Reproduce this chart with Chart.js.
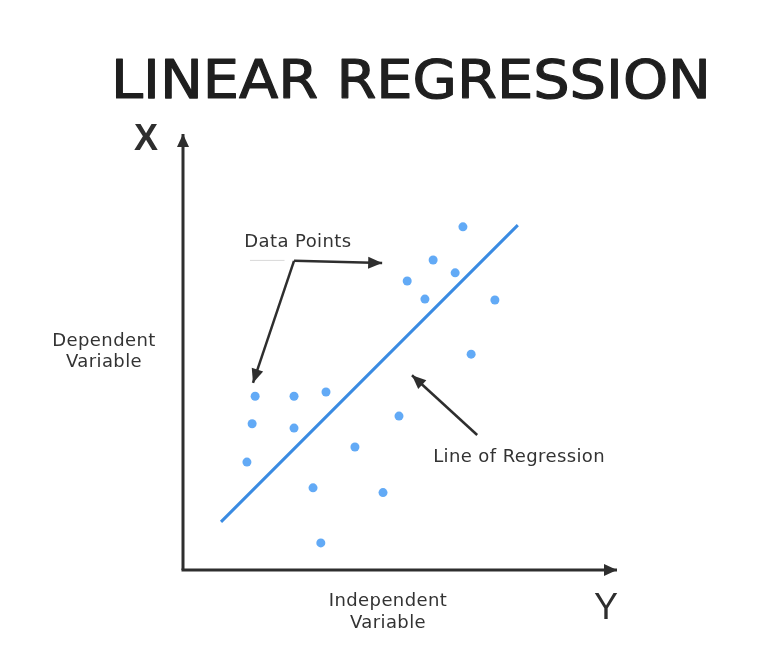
<!DOCTYPE html>
<html>
<head>
<meta charset="utf-8">
<title>Linear Regression</title>
<script src="https://cdn.jsdelivr.net/npm/chart.js@4"></script>
<style>
  html, body { margin: 0; padding: 0; background: #fff; }
  canvas { display: block; }
</style>
</head>
<body>
<canvas id="chart" width="763" height="670"></canvas>
<script>
// scatter points (axis units 0..10)
const pointX = [1.67, 1.60, 1.48, 2.57, 2.57, 3.31, 3.01, 3.19, 3.98, 4.63, 5.00, 5.19, 5.60, 5.79, 6.30, 6.48, 7.22, 6.67];
const pointY = [4.04, 3.40, 2.51, 4.04, 3.30, 4.14, 1.91, 0.63, 2.86, 1.80, 3.58, 6.72, 6.30, 7.21, 6.91, 7.98, 6.28, 5.02];

// regression line end points
const lineX = [0.88, 7.75];
const lineY = [1.12, 8.02];

const axisMin = 0;
const axisMax = 10;

const pointColor = '#62aaf6';
const lineColor = '#3a8be2';
const inkColor = '#2e2e2e';

const scatterData = pointX.map((x, i) => ({ x: x, y: pointY[i] }));
const lineData = lineX.map((x, i) => ({ x: x, y: lineY[i] }));

function arrowHead(ctx, x1, y1, x2, y2, len, half) {
    const a = Math.atan2(y2 - y1, x2 - x1);
    ctx.beginPath();
    ctx.moveTo(x2, y2);
    ctx.lineTo(x2 - len * Math.cos(a) + half * Math.sin(a), y2 - len * Math.sin(a) - half * Math.cos(a));
    ctx.lineTo(x2 - len * Math.cos(a) - half * Math.sin(a), y2 - len * Math.sin(a) + half * Math.cos(a));
    ctx.closePath();
    ctx.fill();
}

function arrow(ctx, pts, width, len, half) {
    ctx.lineWidth = width;
    ctx.beginPath();
    ctx.moveTo(pts[0][0], pts[0][1]);
    for (let i = 1; i < pts.length; i++) {
        ctx.lineTo(pts[i][0], pts[i][1]);
    }
    ctx.stroke();
    const n = pts.length;
    arrowHead(ctx, pts[n - 2][0], pts[n - 2][1], pts[n - 1][0], pts[n - 1][1], len, half);
}

// axes, arrows and labels drawn around the chart area
const decorations = {
    id: 'decorations',
    afterDraw(chart) {
        const ctx = chart.ctx;
        const area = chart.chartArea;
        const xs = chart.scales.x;
        const ys = chart.scales.y;
        const px = v => xs.getPixelForValue(v);
        const py = v => ys.getPixelForValue(v);

        ctx.save();
        ctx.strokeStyle = inkColor;
        ctx.fillStyle = inkColor;
        ctx.lineCap = 'butt';

        // axes
        arrow(ctx, [[area.left, area.bottom], [area.left, area.top - 6]], 3, 13, 6);
        arrow(ctx, [[area.left - 1.5, area.bottom], [area.right + 2, area.bottom]], 3, 13, 6);

        // title
        ctx.textBaseline = 'alphabetic';
        ctx.textAlign = 'left';
        ctx.font = '53px "DejaVu Sans"';
        const title = 'LINEAR REGRESSION';
        const w = ctx.measureText(title).width;
        ctx.save();
        ctx.translate(111, 98);
        ctx.scale(600 / w, 1);
        ctx.fillStyle = '#1f1f1f';
        ctx.strokeStyle = '#1f1f1f';
        ctx.lineWidth = 1.2;
        ctx.lineJoin = 'round';
        ctx.fillText(title, 0, 0);
        ctx.strokeText(title, 0, 0);
        ctx.restore();

        // axis letters
        ctx.textAlign = 'center';
        ctx.font = 'bold 36px "Liberation Sans"';
        ctx.fillText('X', 146, 150);
        ctx.font = '36px "Liberation Sans"';
        ctx.fillText('Y', 606, 619);

        // axis captions
        ctx.fillStyle = '#333';
        ctx.font = '18px "DejaVu Sans"';
        ctx.letterSpacing = '0.4px';
        ctx.textBaseline = 'middle';
        ctx.fillText('Dependent', 104, 341);
        ctx.fillText('Variable', 104, 362);
        ctx.fillText('Independent', 388, 601);
        ctx.fillText('Variable', 388, 623);

        // "Data Points" annotation
        ctx.fillText('Data Points', px(2.66), py(7.62));
        ctx.strokeStyle = '#d8d8d8';
        ctx.lineWidth = 1;
        ctx.beginPath();
        ctx.moveTo(px(1.55), py(7.20));
        ctx.lineTo(px(2.35), py(7.20));
        ctx.stroke();
        ctx.strokeStyle = inkColor;
        ctx.fillStyle = inkColor;
        arrow(ctx, [[px(2.57), py(7.19)], [px(4.61), py(7.14)]], 2.5, 14, 6);
        arrow(ctx, [[px(2.57), py(7.19)], [px(1.62), py(4.35)]], 2.5, 14, 6);

        // "Line of Regression" annotation
        arrow(ctx, [[px(6.81), py(3.14)], [px(5.30), py(4.53)]], 2.5, 14, 6);
        ctx.fillStyle = '#333';
        ctx.textAlign = 'left';
        ctx.fillText('Line of Regression', px(5.79), py(2.62));

        ctx.restore();
    }
};

new Chart(document.getElementById('chart').getContext('2d'), {
    type: 'scatter',
    data: {
        datasets: [
            {
                label: 'Line of Regression',
                data: lineData,
                showLine: true,
                borderColor: lineColor,
                borderWidth: 3,
                pointRadius: 0,
                fill: false
            },
            {
                label: 'Data Points',
                data: scatterData,
                backgroundColor: pointColor,
                borderColor: pointColor,
                borderWidth: 0,
                pointRadius: 4.5
            }
        ]
    },
    options: {
        responsive: false,
        animation: false,
        layout: {
            padding: { left: 183, right: 148, top: 140, bottom: 100 }
        },
        scales: {
            x: { type: 'linear', min: axisMin, max: axisMax, display: false },
            y: { type: 'linear', min: axisMin, max: axisMax, display: false }
        },
        plugins: {
            legend: { display: false },
            tooltip: { enabled: false }
        }
    },
    plugins: [decorations]
});
</script>
</body>
</html>
